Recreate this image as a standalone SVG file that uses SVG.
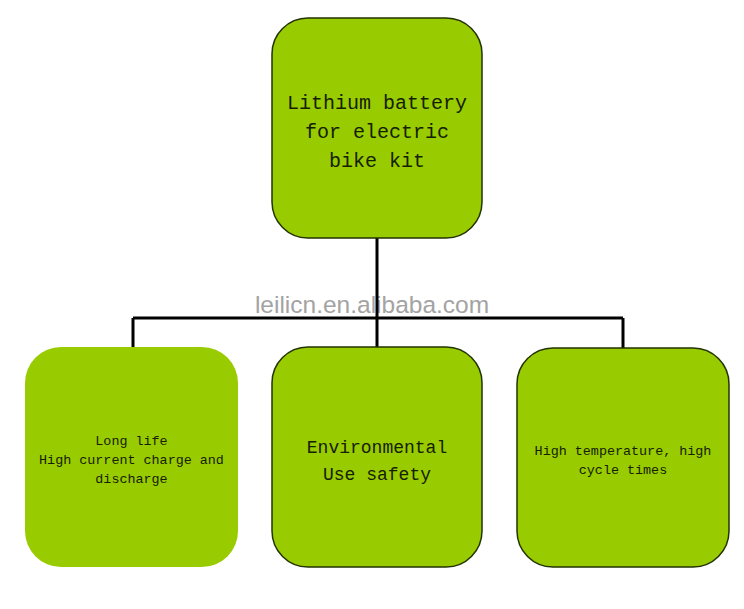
<svg xmlns="http://www.w3.org/2000/svg" width="744" height="609" viewBox="0 0 744 609">
<style>
.box{fill:#99cc00;stroke:#223300;stroke-width:1.5}
.nob{fill:#99cc00;stroke:none}
.t{font-family:"Liberation Mono","DejaVu Sans Mono",monospace;fill:#142000;text-anchor:middle}
.big{font-size:20px}
.mid{font-size:18px}
.sm{font-size:13.4px}
.wire{stroke:#000;stroke-width:3;fill:none}
.wm{font-family:"Liberation Sans",Arial,sans-serif;font-size:24.5px;fill:#a3a3a3;text-anchor:middle}
</style>
<rect width="744" height="609" fill="#ffffff"/>
<text class="wm" x="372" y="313">leilicn.en.alibaba.com</text>
<g id="connectors">
<path class="wire" d="M377 238V347M133 318H623M133 318V347M623 318V348"/>
</g>
<g id="node-top">
<rect class="box" x="272" y="18" width="210" height="220" rx="36"/>
<text class="t big" x="377" y="109">Lithium battery</text>
<text class="t big" x="377" y="138">for electric</text>
<text class="t big" x="377" y="167">bike kit</text>
</g>
<g id="node-left">
<rect class="nob" x="25" y="347" width="213" height="220" rx="36"/>
<text class="t sm" x="131.5" y="445">Long life</text>
<text class="t sm" x="131.5" y="464">High current charge and</text>
<text class="t sm" x="131.5" y="483">discharge</text>
</g>
<g id="node-middle">
<rect class="box" x="272" y="347" width="210" height="220" rx="36"/>
<text class="t mid" x="377" y="453">Environmental</text>
<text class="t mid" x="377" y="480">Use safety</text>
</g>
<g id="node-right">
<rect class="box" x="517" y="348" width="212" height="219" rx="36"/>
<text class="t sm" x="623" y="455">High temperature, high</text>
<text class="t sm" x="623" y="474">cycle times</text>
</g>
</svg>
